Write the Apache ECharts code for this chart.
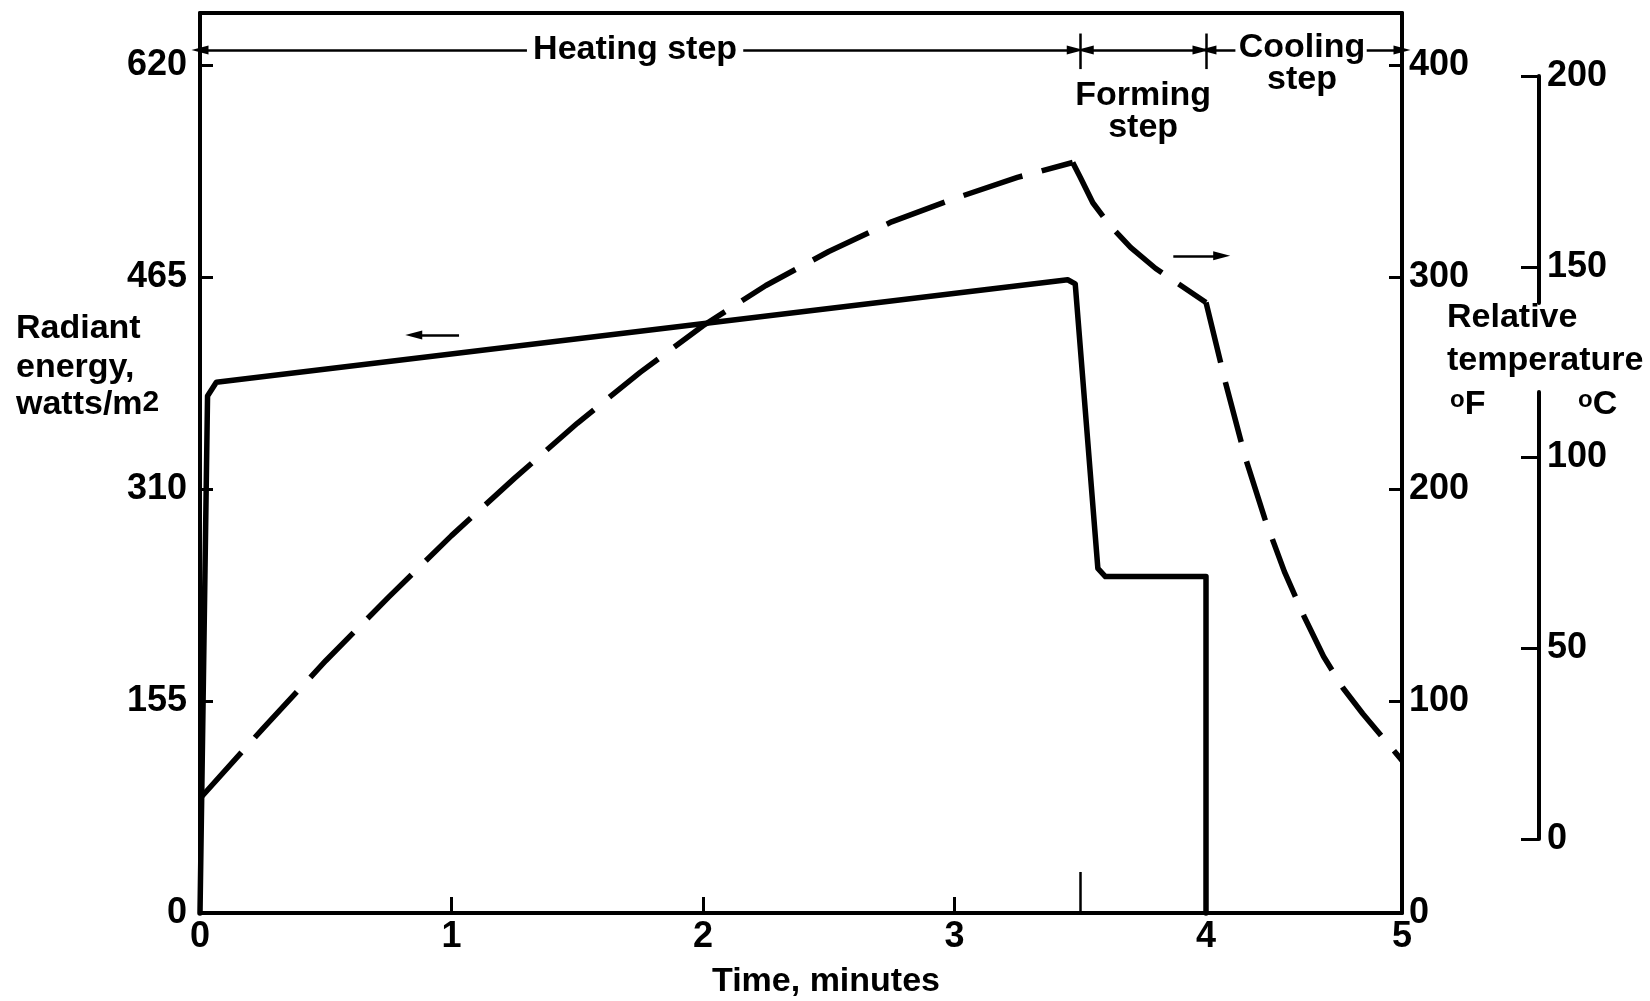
<!DOCTYPE html>
<html>
<head>
<meta charset="utf-8">
<title>Radiant energy and relative temperature</title>
<script src="https://cdn.jsdelivr.net/npm/echarts@6/dist/echarts.min.js"></script>
<style>
  html, body { margin: 0; padding: 0; background: #fff; }
  #chart { width: 1650px; height: 1001px; }
</style>
</head>
<body>
<div id="chart"></div>
<script>
// time, minutes (the 4-5 span is drawn narrower in the original, so it gets its own grid)
const timeLabelsA = [0, 1, 2, 3, 4]
const timeTicksA = [1, 2, 3]
const timeLabelsB = [5]

// left axis: radiant energy, watts/m2
const energyLabels = [0, 155, 310, 465, 620]
const energyTicks = [155, 310, 465, 620]

// right axes: relative temperature
const fahrenheitLabels = [0, 100, 200, 300, 400]
const fahrenheitTicks = [100, 200, 300, 400]
const celsiusUpper = [150, 200]
const celsiusLower = [0, 50, 100]

// solid line: radiant energy
const energyTime = [0, 0.03, 0.065, 3.45, 3.48, 3.57, 3.6, 4.0, 4.0]
const energyValue = [0, 378, 388, 463, 460, 252, 246, 246, 0]

// dashed line: relative temperature (F), heating step
const tempTimeHeat = [0, 0.25, 0.5, 0.75, 1, 1.25, 1.5, 1.75, 2, 2.25, 2.5, 2.75, 3, 3.25, 3.47]
const tempValueHeat = [54, 87, 119, 149, 178, 205, 231, 255, 277, 296, 312, 326, 337, 347, 354]

// forming step
const tempTimeForm = [3.47, 3.5, 3.55, 3.62, 3.7, 3.8, 3.9, 4.0]
const tempValueForm = [354, 347, 335, 324, 314, 304, 296, 288]

// cooling step
const tempTimeCool = [4.0, 4.1, 4.2, 4.3, 4.4, 4.5, 4.6, 4.7, 4.8, 4.9, 5.0]
const tempValueCool = [288, 250, 215, 186, 161, 140, 121, 106, 94, 83, 72]

const FONT = '"Liberation Sans", Arial, sans-serif'
const energyMax = 658
const fahrenheitMax = energyMax * 400 / 620

// celsius axis is drawn in two pieces around the axis title
const cZeroY = 839
const cTopY = 76
const cGapTop = 303
const cGapBottom = 392
const pxPerC = (cZeroY - cTopY) / 200
const cUpperMin = 200 - (cGapTop - cTopY) / pxPerC
const cLowerMax = (cZeroY - cGapBottom) / pxPerC

const pairs = (xs, ys) => xs.map((x, i) => [x, ys[i]])

const tickFont = { color: '#000', fontFamily: FONT, fontWeight: 'bold', fontSize: 36 }
const blackLine = (w) => ({ show: true, onZero: false, lineStyle: { color: '#000', width: w } })
const noAxisBits = { axisTick: { show: false }, axisLabel: { show: false }, splitLine: { show: false } }

const arrowY = 631       // radiant units, arrow row at the top
const arrowYF = arrowY * 400 / 620
const arrow = { symbol: 'triangle', symbolSize: [9, 17] }
const dashed = { color: '#000', width: 5.5, type: [62, 20] }

const annotLine = (data) => ({
  silent: true,
  animation: false,
  symbol: ['none', 'none'],
  label: { show: false },
  lineStyle: { color: '#000', width: 2.5, type: 'solid' },
  emphasis: { disabled: true },
  data: data
})

const annotText = (data) => ({
  silent: true,
  animation: false,
  symbol: 'circle',
  symbolSize: 1,
  itemStyle: { color: 'rgba(0,0,0,0)' },
  label: {
    show: true,
    position: 'inside',
    formatter: '{b}',
    color: '#000',
    fontFamily: FONT,
    fontWeight: 'bold',
    fontSize: 34,
    lineHeight: 32
  },
  data: data
})

const supRich = {
  sup: { fontSize: 30, fontWeight: 'bold', fontFamily: FONT, fill: '#000', verticalAlign: 'top' },
  deg: { fontSize: 24, fontWeight: 'bold', fontFamily: FONT, fill: '#000', verticalAlign: 'top' }
}
const txt = (x, y, text, align) => ({
  type: 'text',
  x: x,
  y: y,
  style: {
    text: text,
    fill: '#000',
    fontSize: 34,
    fontWeight: 'bold',
    fontFamily: FONT,
    align: align || 'left',
    textAlign: align || 'left',
    verticalAlign: 'middle',
    textVerticalAlign: 'middle',
    rich: supRich
  }
})

const chart = echarts.init(document.getElementById('chart'))

chart.setOption({
  animation: false,
  backgroundColor: '#fff',
  grid: [
    { left: 200, top: 13, width: 1006, height: 900 },
    { left: 1206, top: 13, width: 196, height: 900 },
    { left: 1538, top: cTopY, width: 1, height: cGapTop - cTopY },
    { left: 1538, top: cGapBottom, width: 1, height: cZeroY - cGapBottom }
  ],
  xAxis: [
    {
      gridIndex: 0, type: 'value', min: 0, max: 4, position: 'bottom',
      axisLine: blackLine(4),
      axisTick: { show: true, customValues: timeTicksA, inside: true, length: 16, lineStyle: { color: '#000', width: 3 } },
      axisLabel: Object.assign({ customValues: timeLabelsA, margin: 6 }, tickFont),
      splitLine: { show: false }
    },
    Object.assign({ gridIndex: 0, type: 'value', min: 0, max: 4, position: 'top', axisLine: blackLine(4) }, noAxisBits),
    {
      gridIndex: 1, type: 'value', min: 4, max: 5, position: 'bottom',
      axisLine: blackLine(4),
      axisTick: { show: false },
      axisLabel: Object.assign({ customValues: timeLabelsB, margin: 6 }, tickFont),
      splitLine: { show: false }
    },
    Object.assign({ gridIndex: 1, type: 'value', min: 4, max: 5, position: 'top', axisLine: blackLine(4) }, noAxisBits),
    { gridIndex: 2, type: 'value', show: false },
    { gridIndex: 3, type: 'value', show: false }
  ],
  yAxis: [
    {
      gridIndex: 0, type: 'value', min: 0, max: energyMax, position: 'left',
      axisLine: blackLine(4),
      axisTick: { show: true, customValues: energyTicks, inside: true, length: 13, lineStyle: { color: '#000', width: 3 } },
      axisLabel: Object.assign({ customValues: energyLabels, margin: 13 }, tickFont),
      splitLine: { show: false }
    },
    { gridIndex: 0, type: 'value', min: 0, max: fahrenheitMax, position: 'right', show: false },
    {
      gridIndex: 1, type: 'value', min: 0, max: fahrenheitMax, position: 'right',
      axisLine: blackLine(4),
      axisTick: { show: true, customValues: fahrenheitTicks, inside: true, length: 13, lineStyle: { color: '#000', width: 3 } },
      axisLabel: Object.assign({ customValues: fahrenheitLabels, margin: 7 }, tickFont),
      splitLine: { show: false }
    },
    {
      gridIndex: 2, type: 'value', min: cUpperMin, max: 200, position: 'right',
      axisLine: blackLine(4),
      axisTick: { show: true, customValues: celsiusUpper, inside: true, length: 18, lineStyle: { color: '#000', width: 3 } },
      axisLabel: Object.assign({ customValues: celsiusUpper, margin: 8 }, tickFont),
      splitLine: { show: false }
    },
    {
      gridIndex: 3, type: 'value', min: 0, max: cLowerMax, position: 'right',
      axisLine: blackLine(4),
      axisTick: { show: true, customValues: celsiusLower, inside: true, length: 18, lineStyle: { color: '#000', width: 3 } },
      axisLabel: Object.assign({ customValues: celsiusLower, margin: 8 }, tickFont),
      splitLine: { show: false }
    }
  ],
  series: [
    {
      name: 'Radiant energy',
      type: 'line',
      xAxisIndex: 0,
      yAxisIndex: 0,
      data: pairs(energyTime, energyValue),
      showSymbol: false,
      symbol: 'none',
      clip: false,
      z: 3,
      lineStyle: { color: '#000', width: 5.5, join: 'round', cap: 'round' },
      markLine: annotLine([
        [{ coord: [1.3, arrowY] }, Object.assign({ coord: [0, arrowY] }, arrow)],
        [{ coord: [2.16, arrowY] }, Object.assign({ coord: [3.48, arrowY] }, arrow)],
        [Object.assign({ coord: [3.52, arrowY] }, arrow), Object.assign({ coord: [3.98, arrowY] }, arrow)],
        [{ coord: [3.5, 617] }, { coord: [3.5, 643] }],
        [{ coord: [4, 617] }, { coord: [4, 643] }],
        [{ coord: [3.5, 0] }, { coord: [3.5, 30] }],
        [{ coord: [1.03, 422.5] }, Object.assign({ coord: [0.85, 422.5] }, arrow)]
      ]),
      markPoint: annotText([
        { name: 'Heating step', coord: [1.73, arrowY] },
        { name: 'Forming\nstep', coord: [3.75, 586] }
      ])
    },
    {
      name: 'Relative temperature, heating',
      type: 'line',
      xAxisIndex: 0,
      yAxisIndex: 1,
      data: pairs(tempTimeHeat, tempValueHeat),
      showSymbol: false,
      symbol: 'none',
      clip: false,
      lineStyle: dashed
    },
    {
      name: 'Relative temperature, forming',
      type: 'line',
      xAxisIndex: 0,
      yAxisIndex: 1,
      data: pairs(tempTimeForm, tempValueForm),
      showSymbol: false,
      symbol: 'none',
      clip: false,
      lineStyle: dashed,
      markLine: annotLine([
        [{ coord: [3.87, 310] }, { coord: [4.0, 310] }]
      ])
    },
    {
      name: 'Relative temperature, cooling',
      type: 'line',
      xAxisIndex: 2,
      yAxisIndex: 2,
      data: pairs(tempTimeCool, tempValueCool),
      showSymbol: false,
      symbol: 'none',
      clip: false,
      lineStyle: dashed,
      markLine: annotLine([
        [{ coord: [4.0, 310] }, Object.assign({ coord: [4.08, 310] }, arrow)],
        [{ coord: [4.15, arrowYF] }, Object.assign({ coord: [4.01, arrowYF] }, arrow)],
        [{ coord: [4.82, arrowYF] }, Object.assign({ coord: [5.0, arrowYF] }, arrow)]
      ]),
      markPoint: annotText([
        { name: 'Cooling\nstep', coord: [4.49, arrowYF - 6.5] }
      ])
    }
  ],
  graphic: [
    txt(16, 329, 'Radiant'),
    txt(16, 368, 'energy,'),
    txt(16, 405, 'watts/m{sup|2}'),
    txt(826, 982, 'Time, minutes', 'center'),
    txt(1447, 318, 'Relative'),
    txt(1447, 361, 'temperature'),
    txt(1450, 405, '{deg|o}F'),
    txt(1578, 405, '{deg|o}C')
  ]
})
</script>
</body>
</html>
